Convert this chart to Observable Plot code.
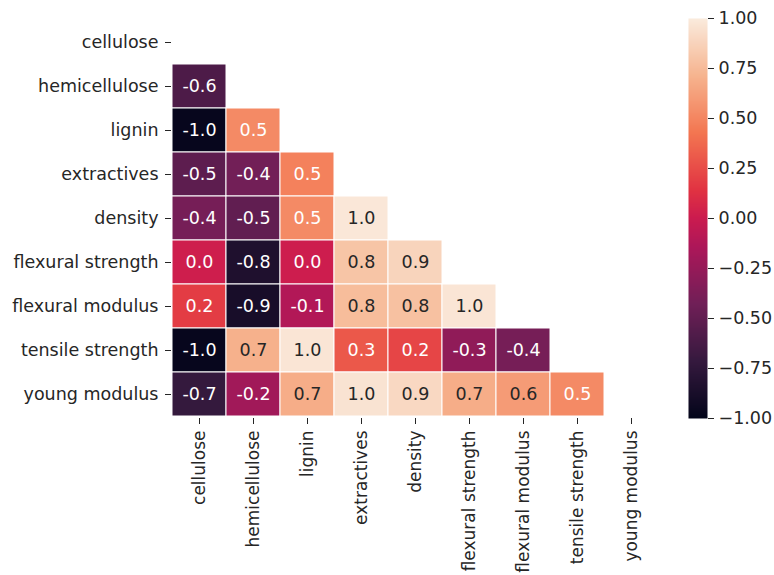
<!DOCTYPE html>
<html>
<head>
<meta charset="utf-8">
<script src="https://cdn.jsdelivr.net/npm/d3@7"></script>
<script src="https://cdn.jsdelivr.net/npm/@observablehq/plot@0.6"></script>
<style>
  html, body { margin: 0; padding: 0; background: white; }
  #wrap { position: relative; width: 774px; height: 575px; overflow: hidden; }
  #wrap svg { position: absolute; top: 0; }
</style>
</head>
<body>
<div id="wrap"></div>
<script>
// Variables (rows and columns of the correlation matrix)
const variables = ["cellulose", "hemicellulose", "lignin", "extractives", "density",
  "flexural strength", "flexural modulus", "tensile strength", "young modulus"];

// Lower triangle (row i has i values: correlation with variables[0..i-1])
const rowHemicellulose     = [-0.60];
const rowLignin            = [-0.98, 0.52];
const rowExtractives       = [-0.52, -0.42, 0.48];
const rowDensity           = [-0.40, -0.50, 0.52, 0.98];
const rowFlexuralStrength  = [0.02, -0.84, 0.01, 0.80, 0.88];
const rowFlexuralModulus   = [0.18, -0.88, -0.12, 0.76, 0.78, 0.97];
const rowTensileStrength   = [-0.98, 0.70, 0.97, 0.30, 0.22, -0.28, -0.40];
const rowYoungModulus      = [-0.72, -0.20, 0.68, 0.96, 0.90, 0.68, 0.60, 0.52];
const lowerRows = [[], rowHemicellulose, rowLignin, rowExtractives, rowDensity,
  rowFlexuralStrength, rowFlexuralModulus, rowTensileStrength, rowYoungModulus];

// Colour bar ticks
const colorbarTicks = [-1, -0.75, -0.5, -0.25, 0, 0.25, 0.5, 0.75, 1];

// "rocket" colormap stops
const rocketDomain = [-1, -5/7, -3/7, -1/7, 0, 1/7, 3/7, 5/7, 1];
const rocketRange = ["#03051a", "#35193e", "#701f57", "#ad1759", "#cb1b4f", "#e13342", "#f37651", "#f6b48f", "#faebdd"];

const cells = [];
lowerRows.forEach((vals, i) => vals.forEach((v, j) => cells.push({row: variables[i], col: variables[j], value: v})));

const colorFn = d3.scaleLinear().domain(rocketDomain).range(rocketRange).clamp(true);
function lum(c) {
  const rgb = d3.rgb(c);
  const f = x => { x /= 255; return x <= 0.03928 ? x / 12.92 : Math.pow((x + 0.055) / 1.055, 2.4); };
  return 0.2126 * f(rgb.r) + 0.7152 * f(rgb.g) + 0.0722 * f(rgb.b);
}
const textColor = d => lum(colorFn(d.value)) > 0.408 ? "#262626" : "white";

const FS = 17.5;
const font = {fontSize: FS + "px", fontFamily: "DejaVu Sans, sans-serif", color: "#262626", background: "transparent", overflow: "visible"};

const main = Plot.plot({
  width: 774,
  height: 575,
  marginLeft: 171,
  marginTop: 18,
  marginRight: 116,
  marginBottom: 157,
  style: font,
  x: {domain: variables, padding: 0, label: null},
  y: {domain: variables, padding: 0, label: null},
  color: {type: "linear", domain: rocketDomain, range: rocketRange},
  marks: [
    Plot.cell(cells, {x: "col", y: "row", fill: "value", stroke: "white", strokeWidth: 1}),
    Plot.text(cells, {x: "col", y: "row", text: d => d.value.toFixed(1), fill: textColor, fontSize: FS}),
    Plot.axisX({anchor: "bottom", tickRotate: -90, tickSize: 6, tickPadding: 6, label: null, fontSize: 17}),
    Plot.axisY({anchor: "left", tickSize: 6, tickPadding: 7, label: null, fontSize: FS})
  ]
});
main.style.left = "0px";

const bar = Plot.plot({
  width: 89,
  height: 575,
  marginLeft: 0,
  marginRight: 70,
  marginTop: 18,
  marginBottom: 157,
  style: font,
  x: {domain: [0, 1], axis: null},
  y: {domain: [-1, 1], label: null},
  color: {type: "linear", domain: rocketDomain, range: rocketRange},
  marks: [
    Plot.raster({x1: 0, x2: 1, y1: -1, y2: 1, fill: (x, y) => y, width: 1, height: 400}),
    Plot.axisY({anchor: "right", ticks: colorbarTicks, tickFormat: d3.format(".2f"), tickSize: 6, tickPadding: 5, label: null, fontSize: FS})
  ]
});
bar.style.left = "688px";

const wrap = document.getElementById("wrap");
wrap.appendChild(main);
wrap.appendChild(bar);
</script>
</body>
</html>
